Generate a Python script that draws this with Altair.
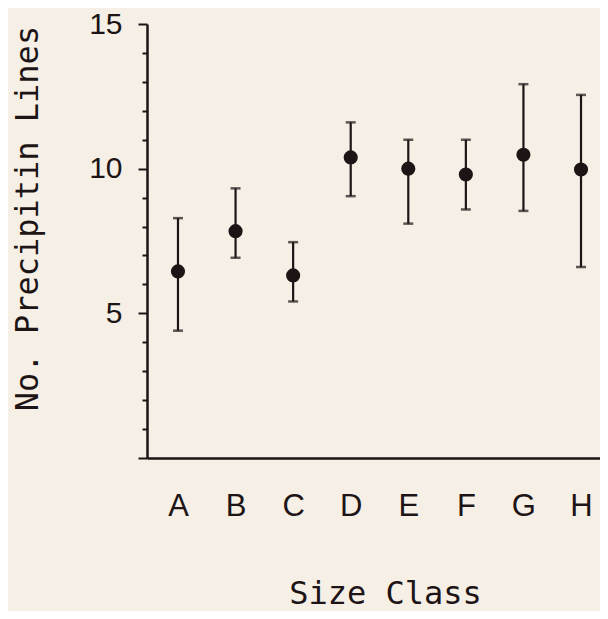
import altair as alt
import pandas as pd

categories = ["A", "B", "C", "D", "E", "F", "G", "H"]
means = [6.45, 7.84, 6.31, 10.39, 10.0, 9.8, 10.48, 9.97]
upper = [8.29, 9.32, 7.46, 11.6, 11.0, 11.0, 12.92, 12.55]
lower = [4.4, 6.92, 5.41, 9.05, 8.1, 8.59, 8.54, 6.6]
y_ticks = list(range(0, 16))
y_labels = [5, 10, 15]

df = pd.DataFrame({"cls": categories, "mean": means, "hi": upper, "lo": lower})

ink = "#1d1415"
bg = "#f6efe5"

x_enc = alt.X(
    "cls:N",
    sort=categories,
    scale=alt.Scale(type="point", padding=0.434, align=0.62),
    axis=alt.Axis(
        title="Size Class",
        ticks=False,
        tickSize=0,
        labelAngle=0,
        labelFontSize=31,
        labelPadding=33,
        labelFont="Liberation Sans",
        labelColor=ink,
        titleFont="DejaVu Sans Mono",
        titleFontSize=32,
        titleFontWeight="normal",
        titleColor=ink,
        titleAlign="center",
        titleBaseline="alphabetic",
        titleX=238,
        titleY=145,
        domainColor=ink,
        domainWidth=2.5,
        grid=False,
    ),
)

y_scale = alt.Scale(domain=[0, 15], nice=False, zero=True)
label_expr = "indexof(" + str(y_labels) + ", datum.value) >= 0 ? datum.label : ''"

y_axis = alt.Axis(
    title="No. Precipitin Lines",
    values=y_ticks,
    labelExpr=label_expr,
    labelOverlap=False,
    labelFontSize=30,
    labelFont="Liberation Sans",
    labelColor=ink,
    labelPadding=16,
    tickSize={"condition": {"test": "datum.value % 5 === 0", "value": 9}, "value": 5},
    tickColor=ink,
    tickWidth=2,
    titleFont="DejaVu Sans Mono",
    titleFontSize=32,
    titleFontWeight="normal",
    titleColor=ink,
    titleAngle=270,
    titleAlign="center",
    titleBaseline="alphabetic",
    titleX=-110,
    titleY=194,
    domainColor=ink,
    domainWidth=2.5,
    grid=False,
)


def y_of(field):
    return alt.Y(field + ":Q", scale=y_scale, axis=y_axis)


base = alt.Chart(df)

rules = base.mark_rule(color=ink, strokeWidth=2.2).encode(
    x=x_enc, y=y_of("lo"), y2="hi:Q"
)
caps_hi = base.mark_tick(color=ink, size=10, thickness=2.5, orient="horizontal").encode(
    x=x_enc, y=y_of("hi")
)
caps_lo = base.mark_tick(color=ink, size=10, thickness=2.5, orient="horizontal").encode(
    x=x_enc, y=y_of("lo")
)
points = base.mark_circle(color=ink, size=200, opacity=1).encode(x=x_enc, y=y_of("mean"))

chart = (
    alt.layer(rules, caps_hi, caps_lo, points)
    .properties(
        width=453,
        height=434,
        background=bg,
        autosize=alt.AutoSizeParams(type="none"),
        padding={"left": 139, "top": 16, "right": 0, "bottom": 153},
    )
    .configure_view(stroke=None)
)

chart.save("out.html", embed_options={"renderer": "svg", "actions": False})
